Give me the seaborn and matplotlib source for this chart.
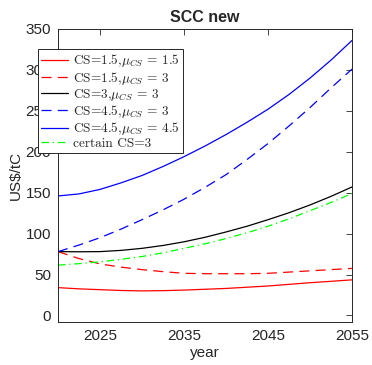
import numpy as np
import pandas as pd
import matplotlib
matplotlib.use('Agg')
import matplotlib.pyplot as plt
import seaborn as sns

# values (US$/tC), every 2.5 years
years = [2020, 2022.5, 2025, 2027.5, 2030, 2032.5, 2035, 2037.5,
         2040, 2042.5, 2045, 2047.5, 2050, 2052.5, 2055]
cs15_mu15 = [34, 32.5, 31.5, 30.5, 30, 30.3, 31, 32, 33, 34.5, 36, 38, 40, 41.7, 43.5]
cs15_mu3 = [78, 69.5, 63, 59, 56, 53.5, 51.5, 51, 51, 51, 51.5, 53, 54.5, 56, 57.5]
cs3_mu3 = [78, 77.8, 78, 79.5, 82, 85.5, 90, 95.5, 102, 109, 117, 125.5, 135, 145.5, 157]
cs45_mu3 = [78, 86, 95, 105.5, 117, 129, 142, 156.5, 172, 190.5, 210, 231.5, 254, 278, 301]
cs45_mu45 = [146, 148.5, 154, 162, 171, 182, 194, 207, 221, 236, 252, 270, 290, 312, 336]
certain_cs3 = [61.5, 63.3, 65.5, 68.5, 72, 76.5, 82, 87.5, 94, 101, 109, 118, 128, 138, 149]

labels = [r'CS=1.5,$\mu_{CS}$ = 1.5', r'CS=1.5,$\mu_{CS}$ = 3',
          r'CS=3,$\mu_{CS}$ = 3', r'CS=4.5,$\mu_{CS}$ = 3',
          r'CS=4.5,$\mu_{CS}$ = 4.5', 'certain CS=3']
series = [cs15_mu15, cs15_mu3, cs3_mu3, cs45_mu3, cs45_mu45, certain_cs3]
colors = ['#ff0000', '#ff0000', '#000000', '#0000ff', '#0000ff', '#00ff00']
dash_styles = [None, (8, 5), None, (8, 5), None, (6, 3, 1, 3)]

sns.set_theme(style='white')
plt.rcParams['font.family'] = ['Liberation Sans', 'DejaVu Sans']
plt.rcParams['mathtext.fontset'] = 'cm'

fig = plt.figure(figsize=(3.72, 3.65), dpi=100)
ax = fig.add_axes([58/372, 1 - 322/365, 294/372, 293/365])

for vals, lab, col, dsh in zip(series, labels, colors, dash_styles):
    ln = sns.lineplot(x=years, y=vals, ax=ax, color=col, linewidth=0.9, label=lab)
    if dsh is not None:
        ax.lines[-1].set_dashes(dsh)

ax.set_xlim(2020, 2055)
ax.set_ylim(-8, 350)
ax.set_xticks([2025, 2035, 2045, 2055])
ax.set_yticks(range(0, 351, 50))

for s in ax.spines.values():
    s.set_color('#262626')
    s.set_linewidth(0.7)
ax.tick_params(direction='in', top=True, right=True, length=4, width=0.6,
               colors='#262626', labelsize=11, pad=5)

ax.set_title('SCC new', fontsize=11.5, fontweight='bold', pad=5)
ax.set_xlabel('year', fontsize=11, color='#262626', labelpad=2)
ax.set_ylabel(r'US\$/tC', fontsize=11, color='#262626', labelpad=2)

leg = ax.legend(loc='upper left', bbox_to_anchor=(38/372, 1 - 49/365),
                bbox_transform=fig.transFigure, borderaxespad=0,
                prop={'family': 'cmr10', 'size': 9.6},
                handlelength=2.0, handletextpad=0.4, labelspacing=0.02,
                borderpad=0.25, fancybox=False, framealpha=1)
leg.get_frame().set_edgecolor('#262626')
leg.get_frame().set_linewidth(0.7)

fig.savefig('out.png', dpi=100)
